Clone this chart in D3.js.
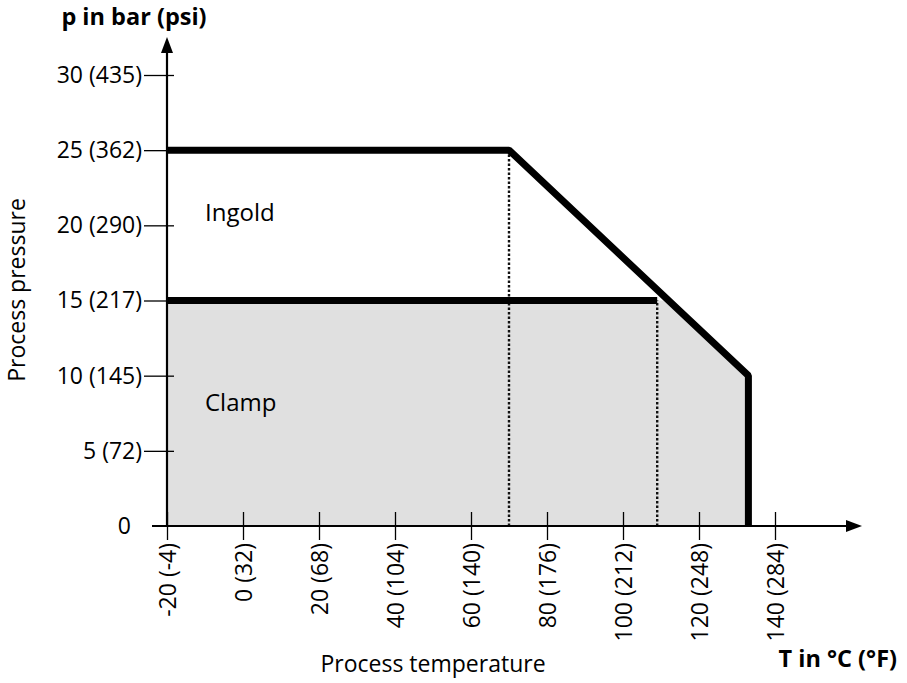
<!DOCTYPE html>
<html>
<head>
<meta charset="utf-8">
<script src="https://cdn.jsdelivr.net/npm/d3@7"></script>
<style>
  body { margin: 0; background: #fff; }
  text { font-family: "Open Sans", "Noto Sans", sans-serif; fill: #000; }
</style>
</head>
<body>
<div id="chart"></div>
<script>
// temperature ticks in degC with degF in brackets
const tempTicks = [-20, 0, 20, 40, 60, 80, 100, 120, 140];
const tempLabels = ["-20 (-4)", "0 (32)", "20 (68)", "40 (104)", "60 (140)", "80 (176)", "100 (212)", "120 (248)", "140 (284)"];

// pressure ticks in bar with psi in brackets
const pressTicks = [0, 5, 10, 15, 20, 25, 30];
const pressLabels = ["0", "5 (72)", "10 (145)", "15 (217)", "20 (290)", "25 (362)", "30 (435)"];

// Ingold limit curve
const ingoldT = [-20, 70, 133, 133];
const ingoldP = [25, 25, 10, 0];

// Clamp limit line
const clampT = [-20, 109];
const clampP = [15, 15];

// Clamp operating area (shaded)
const clampAreaT = [-20, -20, 112, 133, 133];
const clampAreaP = [0, 15, 15, 10, 0];

// dotted guide lines (temperature, pressure top)
const guideT = [70, 109];
const guideP = [25, 15];

const W = 907, H = 683;
const FS = "23px";

const svg = d3.select("#chart").append("svg")
    .attr("width", W)
    .attr("height", H);

const x = d3.scaleLinear().domain([-20, 140]).range([167, 775]);
const y = d3.scaleLinear().domain([0, 30]).range([526, 75]);

// shaded clamp area
const areaPts = clampAreaT.map((t, i) => [x(t), y(clampAreaP[i])]);
svg.append("path")
    .attr("d", d3.line()(areaPts) + "Z")
    .attr("fill", "#e0e0e0");

// dotted guides
guideT.forEach((t, i) => {
    svg.append("line")
        .attr("x1", x(t)).attr("x2", x(t))
        .attr("y1", y(0)).attr("y2", y(guideP[i]))
        .attr("stroke", "#111")
        .attr("stroke-width", 2.4)
        .attr("stroke-dasharray", "2.5,2");
});

// x axis ticks + labels
const xAxis = d3.axisBottom(x)
    .tickValues(tempTicks)
    .tickFormat((d, i) => tempLabels[i])
    .tickSize(0);
const gx = svg.append("g").attr("transform", `translate(0,${y(0)})`).call(xAxis);
gx.select(".domain").remove();
gx.selectAll(".tick text")
    .attr("transform", "rotate(-90)")
    .attr("text-anchor", "end")
    .attr("x", -17)
    .attr("y", 0)
    .attr("dy", "0.35em")
    .style("font-size", FS)
    .style("font-family", "'Open Sans', sans-serif");
gx.selectAll(".tick").append("line")
    .attr("y1", -14).attr("y2", 14)
    .attr("stroke", "#000").attr("stroke-width", 1.3);

// y axis ticks + labels
const yAxis = d3.axisLeft(y)
    .tickValues(pressTicks)
    .tickFormat((d, i) => pressLabels[i])
    .tickSize(0);
const gy = svg.append("g").attr("transform", `translate(${x(-20)},0)`).call(yAxis);
gy.select(".domain").remove();
gy.selectAll(".tick text")
    .attr("x", d => d === 0 ? -36 : -25)
    .style("font-size", FS)
    .style("font-family", "'Open Sans', sans-serif");
gy.selectAll(".tick").filter(d => d !== 0).append("line")
    .attr("x1", -23).attr("x2", 7)
    .attr("stroke", "#000").attr("stroke-width", 1.3);

// axis lines with arrows
svg.append("line")
    .attr("x1", 152).attr("x2", 852)
    .attr("y1", y(0)).attr("y2", y(0))
    .attr("stroke", "#000").attr("stroke-width", 2.2);
svg.append("path")
    .attr("d", `M862,${y(0)} L846,${y(0) - 6} L846,${y(0) + 6} Z`)
    .attr("fill", "#000");
svg.append("line")
    .attr("x1", x(-20)).attr("x2", x(-20))
    .attr("y1", y(0)).attr("y2", 48)
    .attr("stroke", "#000").attr("stroke-width", 2.2);
svg.append("path")
    .attr("d", `M${x(-20)},37 L${x(-20) - 6},53 L${x(-20) + 6},53 Z`)
    .attr("fill", "#000");

// limit lines
const lineGen = d3.line().x(d => x(d[0])).y(d => y(d[1]));
svg.append("path")
    .attr("d", lineGen(clampT.map((t, i) => [t, clampP[i]])))
    .attr("fill", "none")
    .attr("stroke", "#000")
    .attr("stroke-width", 7);
svg.append("path")
    .attr("d", lineGen(ingoldT.map((t, i) => [t, ingoldP[i]])))
    .attr("fill", "none")
    .attr("stroke", "#000")
    .attr("stroke-width", 7)
    .attr("stroke-linejoin", "bevel");

// region labels
svg.append("text").attr("x", 205).attr("y", 221).style("font-size", "24px").text("Ingold");
svg.append("text").attr("x", 205).attr("y", 411).style("font-size", "24px").text("Clamp");

// axis titles
svg.append("text")
    .attr("x", 134).attr("y", 25)
    .attr("text-anchor", "middle")
    .style("font-size", "23.5px").style("font-weight", "bold")
    .text("p in bar (psi)");
svg.append("text")
    .attr("transform", "translate(25,290) rotate(-90)")
    .attr("text-anchor", "middle")
    .style("font-size", FS)
    .text("Process pressure");
svg.append("text")
    .attr("x", 433).attr("y", 672)
    .attr("text-anchor", "middle")
    .style("font-size", FS)
    .text("Process temperature");
svg.append("text")
    .attr("x", 897).attr("y", 667)
    .attr("text-anchor", "end")
    .style("font-size", "23.5px").style("font-weight", "bold")
    .text("T in °C (°F)");
</script>
</body>
</html>
